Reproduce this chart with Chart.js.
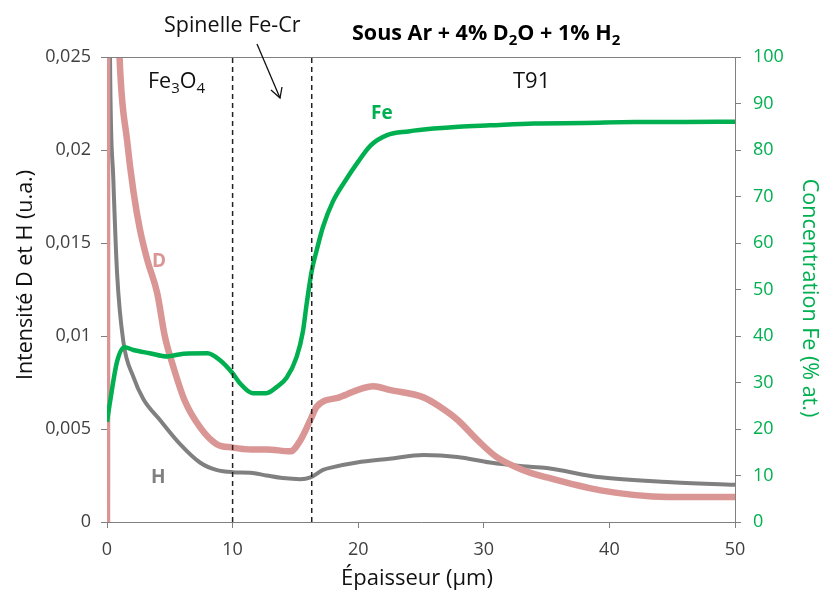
<!DOCTYPE html>
<html>
<head>
<meta charset="utf-8">
<script src="https://cdn.jsdelivr.net/npm/chart.js@4/dist/chart.umd.min.js"></script>
<style>
html,body{margin:0;padding:0;background:#fff;}
canvas{display:block;}
</style>
</head>
<body>
<canvas id="c" width="824" height="594"></canvas>
<script>
// ---- data ----
// Fe concentration (% at.), right axis
const feX = [0, 0.25, 0.8, 1.4, 2.1, 3.4, 4.8, 6.1, 8.0, 9.0, 10.0, 10.6, 11.6, 12.7, 13.5, 14.3, 15.1, 15.6, 15.9, 16.3, 16.7, 17.2, 18.0, 19.0, 20.0, 21.0, 22.3, 24.0, 26.0, 28.0, 30.5, 34.0, 38.0, 42.0, 46.0, 50.0];
const feY = [21.5, 26, 34.5, 37.6, 37.0, 36.3, 35.6, 36.2, 36.3, 34.8, 32.0, 29.8, 27.7, 27.7, 29.0, 31.0, 35.5, 41, 47, 54, 58.5, 63.5, 69, 73.5, 77.5, 81, 83.2, 84.0, 84.6, 85.0, 85.3, 85.7, 85.8, 86.0, 86.0, 86.1];
// D intensity (u.a.), left axis
const dX = [0, 0.02, 1.0, 1.6, 2.1, 2.6, 3.2, 4.0, 4.6, 5.3, 6.2, 7.4, 8.7, 10.0, 11.5, 12.7, 14.6, 15.4, 16.2, 16.7, 18.5, 21.2, 22.5, 25.2, 26.5, 27.9, 29.5, 31.0, 33.1, 35.0, 39.3, 44.6, 50.0];
const dY = [0, 0.05, 0.025, 0.0205, 0.0178, 0.0158, 0.0141, 0.0123, 0.0100, 0.0083, 0.0065, 0.0051, 0.0042, 0.0040, 0.0039, 0.0039, 0.0038, 0.0044, 0.0055, 0.0062, 0.0067, 0.0073, 0.0071, 0.0067, 0.0062, 0.0055, 0.0044, 0.0035, 0.0028, 0.0024, 0.0017, 0.00135, 0.00135];
// H intensity (u.a.), left axis
const hX = [0.05, 0.24, 0.5, 0.8, 1.3, 2.1, 2.9, 4.2, 5.8, 7.4, 8.7, 10.0, 11.4, 12.7, 14.0, 15.4, 16.2, 17.2, 18.0, 19.9, 22.5, 25.2, 27.9, 30.5, 33.1, 35.0, 39.3, 44.6, 50.0];
const hY = [0.05, 0.025, 0.0185, 0.0134, 0.0097, 0.0078, 0.0066, 0.0055, 0.0042, 0.0032, 0.0028, 0.00268, 0.00265, 0.0025, 0.00236, 0.0023, 0.0024, 0.0028, 0.00295, 0.0032, 0.0034, 0.0036, 0.0035, 0.0032, 0.0030, 0.0029, 0.0024, 0.00215, 0.0020];
// layer boundaries (µm)
const boundaries = [10, 16.3];
// tick labels
const xTickLabels = ['0', '10', '20', '30', '40', '50'];
const leftTickLabels = ['0', '0,005', '0,01', '0,015', '0,02', '0,025'];
const rightTickLabels = ['0', '10', '20', '30', '40', '50', '60', '70', '80', '90', '100'];

const FONT = "'Open Sans', sans-serif";
const GREEN = '#00b050';
const PINK = '#d99694';
const GREY = '#808080';

const pts = (xs, ys) => xs.map((x, i) => ({x: x, y: ys[i]}));

const boundaryDatasets = boundaries.map(b => ({
  label: 'limit', data: [{x: b, y: 0}, {x: b, y: 0.025}], yAxisID: 'y',
  borderColor: '#222', borderWidth: 1.5, borderDash: [5, 4], pointRadius: 0, order: 0, clip: 0
}));

function richText(ctx, parts, x, y, size, weight, color) {
  let cx = x;
  ctx.fillStyle = color;
  ctx.textBaseline = 'alphabetic';
  ctx.textAlign = 'left';
  for (const [t, sub] of parts) {
    const s = sub ? Math.round(size * 0.68) : size;
    ctx.font = weight + ' ' + s + 'px ' + FONT;
    ctx.fillText(t, cx, sub ? y + size * 0.22 : y);
    cx += ctx.measureText(t).width;
  }
  return cx - x;
}

const annot = {
  id: 'annot',
  afterDraw(chart) {
    const ctx = chart.ctx;
    const a = chart.chartArea;
    ctx.save();
    // top border
    ctx.strokeStyle = GREY; ctx.lineWidth = 1;
    ctx.beginPath(); ctx.moveTo(a.left, a.top + 0.5); ctx.lineTo(a.right, a.top + 0.5); ctx.stroke();
    // right axis tick labels, placed through the y2 scale
    const s2 = chart.scales.y2;
    ctx.font = '18px ' + FONT; ctx.fillStyle = GREEN; ctx.textAlign = 'left'; ctx.textBaseline = 'middle';
    rightTickLabels.forEach((t, i) => {
      ctx.fillText(t, s2.left + 18, s2.getPixelForValue(i * 10));
    });
    ctx.textBaseline = 'alphabetic';
    // title
    richText(ctx, [['Sous Ar + 4% D', false], ['2', true], ['O + 1% H', false], ['2', true]], 352, 40, 21.5, 'bold', '#000');
    // labels
    ctx.font = '21.5px ' + FONT; ctx.fillStyle = '#111'; ctx.textAlign = 'left';
    ctx.fillText('Spinelle Fe-Cr', 164, 32);
    richText(ctx, [['Fe', false], ['3', true], ['O', false], ['4', true]], 148, 88, 21.5, 'normal', '#111');
    ctx.font = '22px ' + FONT; ctx.fillStyle = '#111';
    ctx.fillText('T91', 513, 88);
    // arrow
    ctx.strokeStyle = '#111'; ctx.lineWidth = 1.3;
    ctx.beginPath(); ctx.moveTo(257, 44); ctx.lineTo(280, 98); ctx.stroke();
    ctx.beginPath(); ctx.moveTo(271, 90); ctx.lineTo(280, 98); ctx.lineTo(282, 87); ctx.stroke();
    // series labels
    ctx.font = 'bold 19px ' + FONT;
    ctx.fillStyle = GREEN; ctx.fillText('Fe', 371, 119);
    ctx.fillStyle = PINK; ctx.fillText('D', 152, 267);
    ctx.fillStyle = GREY; ctx.fillText('H', 151, 483);
    // axis titles
    ctx.font = '22px ' + FONT; ctx.fillStyle = '#111'; ctx.textAlign = 'center';
    ctx.fillText('Épaisseur (µm)', 417, 585);
    ctx.font = '21.5px ' + FONT;
    ctx.save();
    ctx.translate(32, 275); ctx.rotate(-Math.PI / 2);
    ctx.fillText('Intensité D et H (u.a.)', 0, 0);
    ctx.restore();
    ctx.save();
    ctx.fillStyle = GREEN;
    ctx.translate(803, 298); ctx.rotate(Math.PI / 2);
    ctx.fillText('Concentration Fe (% at.)', 0, 0);
    ctx.restore();
    ctx.restore();
  }
};

new Chart(document.getElementById('c'), {
  type: 'line',
  data: {
    datasets: [
      ...boundaryDatasets,
      {label: 'Fe', data: pts(feX, feY), yAxisID: 'y2', borderColor: GREEN, borderWidth: 4.5, pointRadius: 0, cubicInterpolationMode: 'monotone', order: 1, clip: 0},
      {label: 'D', data: pts(dX, dY), yAxisID: 'y', borderColor: PINK, borderWidth: 6.5, pointRadius: 0, cubicInterpolationMode: 'monotone', order: 2, clip: 0},
      {label: 'H', data: pts(hX, hY), yAxisID: 'y', borderColor: GREY, borderWidth: 4, pointRadius: 0, cubicInterpolationMode: 'monotone', order: 3, clip: 0}
    ]
  },
  options: {
    responsive: false, animation: false, devicePixelRatio: 1,
    layout: {padding: {top: 57, left: 0, right: 0, bottom: 0}},
    plugins: {legend: {display: false}, tooltip: {enabled: false}, title: {display: false}},
    scales: {
      x: {
        type: 'linear', min: 0, max: 50,
        ticks: {stepSize: 10, color: '#404040', font: {family: FONT, size: 18}, padding: 11,
          callback: (v, i) => xTickLabels[i]},
        grid: {display: true, drawOnChartArea: false, drawTicks: true, tickLength: 6, color: GREY},
        border: {display: true, color: GREY, width: 1},
        afterFit: s => { s.height = 72; }
      },
      y: {
        position: 'left', min: 0, max: 0.025,
        ticks: {stepSize: 0.005, color: '#404040', font: {family: FONT, size: 18}, padding: 10,
          callback: (v, i) => leftTickLabels[i]},
        grid: {display: true, drawOnChartArea: false, drawTicks: true, tickLength: 6, color: GREY},
        border: {display: true, color: GREY, width: 1},
        afterFit: s => { s.width = 107; }
      },
      y2: {
        position: 'right', min: 0, max: 100,
        ticks: {stepSize: 10, display: false},
        grid: {display: true, drawOnChartArea: false, drawTicks: true, tickLength: 6, color: GREY},
        border: {display: true, color: GREY, width: 1},
        afterFit: s => { s.width = 89; }
      }
    }
  },
  plugins: [annot]
});
</script>
</body>
</html>
